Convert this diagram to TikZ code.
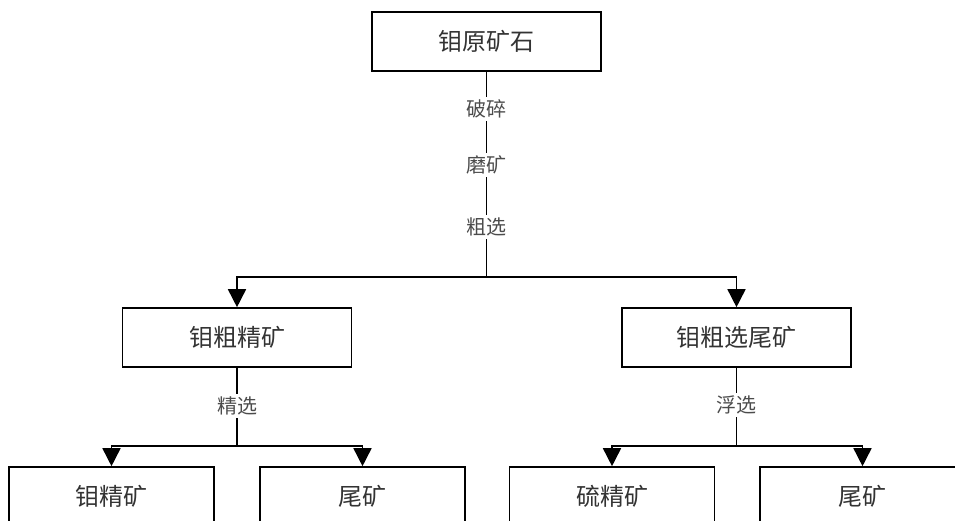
\documentclass[tikz,border=0pt]{standalone}
\usepackage{fontspec}
\setmainfont{Noto Sans CJK SC}
\usetikzlibrary{arrows.meta}
\begin{document}
\begin{tikzpicture}[x=1pt,y=-1pt,
  kuang/.style={draw,line width=1.6pt,minimum height=59pt,inner sep=0pt,
    text=black!80,font=\fontsize{24}{24}\selectfont},
  dakuang/.style={kuang,minimum width=229pt},
  xiaokuang/.style={kuang,minimum width=205pt},
  gongxu/.style={fill=white,inner sep=3pt,text=black!70,font=\fontsize{20}{20}\selectfont},
  xian/.style={line width=1.6pt},
  jian/.style={xian,-{Triangle[width=18pt,length=18pt]}}]
\useasboundingbox (0,0) rectangle (955,521);
\clip (0,0) rectangle (955,521);
%
% cajas
\node[dakuang] (yuan) at (486.5,41.5) {钼原矿石};
\node[dakuang] (cujing) at (237,337.5) {钼粗精矿};
\node[dakuang] (weikuang) at (736.5,337.5) {钼粗选尾矿};
\node[xiaokuang] (mojing) at (111.5,496.5) {钼精矿};
\node[xiaokuang] (wei1) at (362.5,496.5) {尾矿};
\node[xiaokuang] (liujing) at (612,496.5) {硫精矿};
\node[xiaokuang] (wei2) at (862.5,496.5) {尾矿};
%
% ramas
\coordinate (j0) at (486.5,277);
\coordinate (j1) at (237,446);
\coordinate (j2) at (736.5,446);
\draw[xian] (yuan) -- (j0);
\draw[jian] (j0) -| (cujing);
\draw[jian] (j0) -| (weikuang);
\draw[xian] (cujing) -- (j1);
\draw[jian] (j1) -| (mojing);
\draw[jian] (j1) -| (wei1);
\draw[xian] (weikuang) -- (j2);
\draw[jian] (j2) -| (liujing);
\draw[jian] (j2) -| (wei2);
%
% etiquetas de proceso
\foreach \nombre/\y/\texto in {posui/109/破碎,mokuang/165/磨矿,cuxuan/227/粗选}
\node[gongxu] (\nombre) at (486.5,\y) {\texto};
\node[gongxu] (jingxuan) at (237,406) {精选};
\node[gongxu] (fuxuan) at (736.5,405) {浮选};
\end{tikzpicture}
\end{document}
